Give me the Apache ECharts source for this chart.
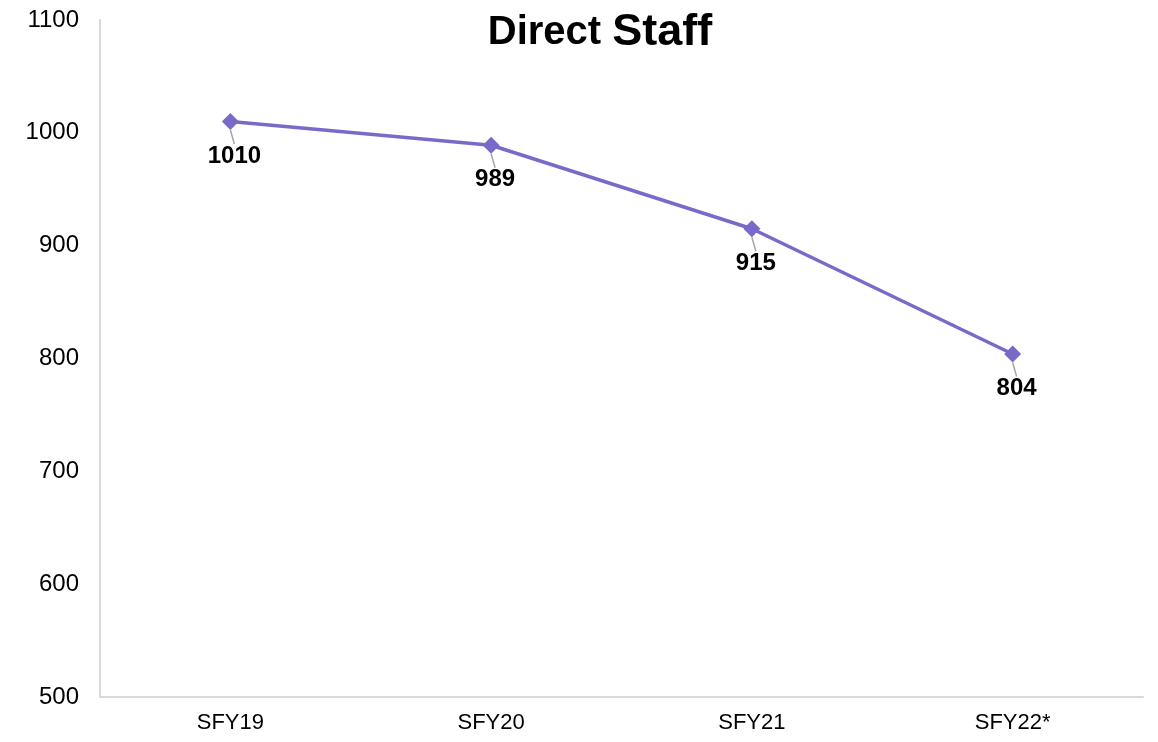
<!DOCTYPE html>
<html><head><meta charset="utf-8">
<script src="https://cdn.jsdelivr.net/npm/echarts@6/dist/echarts.min.js"></script>
<style>html,body{margin:0;padding:0;background:#fff}#c{width:1158px;height:742px}</style>
</head><body><div id="c"></div>
<script>
const categories = ['SFY19', 'SFY20', 'SFY21', 'SFY22*'];
const directStaff = [1010, 989, 915, 804];
const yTicks = { min: 500, max: 1100, interval: 100 };
const titleWords = ['Direct', 'Staff'];

const FONT = 'Liberation Sans, Arial, sans-serif';
const chart = echarts.init(document.getElementById('c'));
chart.setOption({
  animation: false,
  title: {
    text: '{a|' + titleWords[0] + '} {b|' + titleWords[1] + '}',
    left: 595, top: 5, textAlign: 'center',
    textStyle: {
      rich: {
        a: { fontFamily: FONT, fontSize: 40, fontWeight: 'bold', color: '#000' },
        b: { fontFamily: FONT, fontSize: 45, fontWeight: 'bold', color: '#000' }
      },
      fontFamily: FONT, fontSize: 40, fontWeight: 'bold', color: '#000'
    }
  },
  grid: { left: 100, right: 15, top: 20, bottom: 45, containLabel: false },
  xAxis: {
    type: 'category', data: categories, boundaryGap: true,
    axisLine: { lineStyle: { color: '#d9d9d9', width: 2 } },
    axisTick: { show: false },
    axisLabel: { fontFamily: FONT, fontSize: 22, color: '#000', margin: 15 }
  },
  yAxis: {
    type: 'value', min: yTicks.min, max: yTicks.max, interval: yTicks.interval,
    axisLine: { show: true, lineStyle: { color: '#d9d9d9', width: 2 } },
    axisTick: { show: false },
    splitLine: { show: false },
    axisLabel: { fontFamily: FONT, fontSize: 24, color: '#000', margin: 21, formatter: v => String(v) }
  },
  series: [{
    type: 'line', data: directStaff,
    symbol: 'diamond', symbolSize: 17,
    lineStyle: { color: '#7b69c9', width: 3.5 },
    itemStyle: { color: '#7b69c9' },
    label: {
      show: true, position: 'bottom', distance: 14,
      fontFamily: FONT, fontSize: 24, fontWeight: 'bold', color: '#000'
    },
    labelLayout: { dx: 4 },
    labelLine: { show: true, length2: 0, lineStyle: { color: '#a6a6a6', width: 1.5 } }
  }]
});
</script></body></html>
